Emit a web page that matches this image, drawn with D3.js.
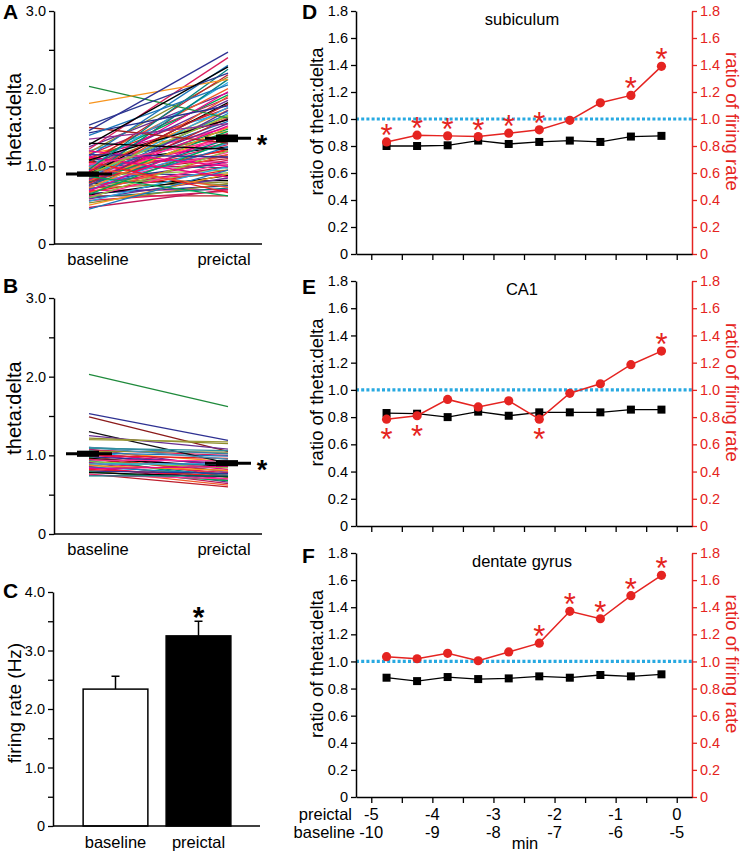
<!DOCTYPE html>
<html><head><meta charset="utf-8">
<script src="https://cdn.jsdelivr.net/npm/d3@7"></script>
<style>
body{margin:0;background:#fff}
text{font-family:"Liberation Sans",Arial,Helvetica,sans-serif}
</style>
</head><body>
<svg id="chart" width="746" height="853"></svg>
<script>
// ---------------- DATA ----------------
const groups = ["baseline", "preictal"];

// Panel A: theta:delta per unit, baseline -> preictal
const aBase = [2.03,1.81,1.53,1.50,1.46,1.43,1.40,1.35,1.30,1.28,1.25,1.22,1.20,1.18,1.17,1.15,1.13,1.12,1.10,1.10,
  1.08,1.07,1.05,1.05,1.04,1.03,1.02,1.01,1.00,1.00,0.99,0.98,0.97,0.96,0.95,0.95,0.94,0.93,0.92,0.92,
  0.91,0.90,0.90,0.89,0.88,0.88,0.87,0.86,0.86,0.85,0.84,0.84,0.83,0.82,0.82,0.81,0.80,0.80,0.79,0.78,
  0.78,0.77,0.76,0.75,0.75,0.74,0.73,0.72,0.72,0.71,0.70,0.69,0.68,0.67,0.66,0.65,0.64,0.63,0.62,0.61,
  0.60,0.59,0.58,0.56,0.55,0.53,0.50,0.47,0.45,1.12,1.20,1.06,0.98,1.15,0.87,1.08,0.93,1.02,0.96,0.90];
const aPre = [1.62,2.12,2.20,1.30,2.47,1.78,2.05,1.55,1.22,2.28,1.95,2.40,1.70,2.15,1.45,1.88,2.30,1.60,1.05,1.75,
  2.00,1.38,1.92,1.25,2.18,1.50,0.98,1.66,1.85,1.12,2.08,1.42,1.72,1.02,1.58,1.30,1.96,1.20,1.64,0.88,
  1.48,1.82,1.10,1.35,2.12,0.95,1.55,1.28,1.76,0.76,1.40,1.15,1.68,0.90,1.52,1.22,1.90,1.05,1.45,0.82,
  1.62,1.18,1.35,0.92,1.72,1.08,1.30,0.80,1.50,1.00,1.25,0.70,1.42,0.95,1.15,0.75,1.32,0.88,0.62,1.05,
  0.72,1.20,0.85,0.68,1.00,0.78,0.90,0.70,0.95,0.86,1.00,0.66,0.73,1.12,0.62,1.60,1.80,1.35,2.25,1.65];
const aMeans = [0.90, 1.36];
const aSem = [0.015, 0.03];

// Panel B
const bBase = [2.03,1.53,1.49,1.30,1.25,1.22,1.20,1.10,1.10,1.09,1.08,1.07,1.06,1.05,1.05,1.04,1.03,1.02,1.01,1.00,
  0.99,0.98,0.97,0.96,0.95,0.94,0.93,0.92,0.91,0.90,0.89,0.88,0.87,0.86,0.85,0.84,0.83,0.82,0.81,0.80,
  0.79,0.78,0.76,0.75,0.74];
const bPre = [1.62,1.19,1.05,0.90,1.08,1.15,1.17,1.02,0.95,1.06,0.85,1.00,0.78,1.04,0.92,0.72,0.99,0.88,0.82,0.96,
  0.75,0.90,0.68,0.86,0.80,0.93,0.74,0.84,0.66,0.78,0.89,0.72,0.81,0.64,0.76,0.70,0.86,0.74,0.62,0.77,
  0.68,0.73,0.60,0.70,0.74];
const bMeans = [1.02, 0.90];
const bSem = [0.02, 0.02];

// colours of individual unit lines
const aFirstColors = ["#1f8a3c","#f7941d","#2b3990","#a3201f","#2e3192","#262f8f","#1b75bb","#92278f","#000000","#000000"];
const bFirstColors = ["#1f8a3c","#2e3192","#8b1a1a","#111111","#662d91","#8c8c2c","#9c9a3a","#3b7ea1","#4a8fb3","#2f8f9d"];
const linePalette = ["#ec008c","#ed1c24","#f15a29","#2e3192","#00a651","#000000","#be1e2d","#ff3399","#00827f",
  "#8dc63f","#662d91","#d91c5c","#27aae1","#8b8b2c","#f7941d","#c2185b","#1b75bb","#e6007e"];

// Panel C: firing rate (Hz)
const firingRate = [2.34, 3.25];
const firingErr = [0.22, 0.25];

// Panels D-F
const minutes = [-4.75,-4.25,-3.75,-3.25,-2.75,-2.25,-1.75,-1.25,-0.75,-0.25];
const subTheta = [0.80,0.80,0.805,0.84,0.815,0.83,0.84,0.83,0.87,0.875];
const subRate  = [0.83,0.88,0.875,0.87,0.895,0.92,0.99,1.12,1.175,1.39];
const subStars = [1,1,1,1,1,1,0,0,1,1];
const ca1Theta = [0.83,0.825,0.80,0.84,0.81,0.835,0.835,0.835,0.855,0.855];
const ca1Rate  = [0.785,0.81,0.93,0.875,0.92,0.785,0.975,1.045,1.185,1.285];
const ca1Stars = [-1,-1,0,0,0,-1,0,0,0,1];
const dgTheta = [0.88,0.855,0.885,0.87,0.875,0.89,0.88,0.90,0.89,0.905];
const dgRate  = [1.035,1.02,1.06,1.005,1.07,1.135,1.37,1.315,1.485,1.635];
const dgStars = [0,0,0,0,0,1,1,1,1,1];
const ratioTicks = [0,0.2,0.4,0.6,0.8,1.0,1.2,1.4,1.6,1.8];
const preictalTicks = [-5,-4,-3,-2,-1,0];
const baselineTickLabels = ["-10","-9","-8","-7","-6","-5"];

// ---------------- DRAW ----------------
const svg = d3.select("#chart");
const RED = "#e52421", BLUE = "#27a9e1";
const fmt = d => d === 0 ? "0" : d3.format(".1f")(d);

function styleAxis(g, color) {
  g.select(".domain").attr("stroke", color).attr("stroke-width", 1.5);
  g.selectAll(".tick line").attr("stroke", color).attr("stroke-width", 1.3);
  g.selectAll(".tick text").attr("fill", color).attr("font-size", 14.5)
   .attr("font-family", '"Liberation Sans",Arial,sans-serif');
}
function letter(txt, x, y) {
  svg.append("text").attr("x", x).attr("y", y).attr("font-size", 21).attr("font-weight", "bold").text(txt);
}
function vLabel(txt, x, y, rot, color, size) {
  svg.append("text").attr("transform", `translate(${x},${y}) rotate(${rot})`)
    .attr("text-anchor", "middle").attr("font-size", size || 18).attr("fill", color || "#000").text(txt);
}
function star(x, cy, size, color, bold) {
  svg.append("text").attr("x", x).attr("y", cy + size * 0.58).attr("text-anchor", "middle")
    .attr("font-size", size).attr("font-weight", bold ? "bold" : "normal").attr("fill", color).text("*");
}

// Panels A & B
function drawPairs(base, pre, firstColors, means, sem, top, bottom, L, letterY) {
  const y = d3.scaleLinear().domain([0, 3]).range([bottom, top]);
  const x = d3.scalePoint().domain(groups).range([89, 228]);
  const xl = d3.scalePoint().domain(groups).range([98, 224]);
  const g = svg.append("g");
  const pairs = base.map((b, i) => ({ b, p: pre[i], c: firstColors[i] || linePalette[i % linePalette.length] }));
  const order = pairs.slice(firstColors.length).concat(pairs.slice(0, firstColors.length));
  g.selectAll("line.u").data(order).join("line")
    .attr("x1", x("baseline")).attr("x2", x("preictal"))
    .attr("y1", d => y(d.b)).attr("y2", d => y(d.p))
    .attr("stroke", d => d.c).attr("stroke-width", 1.3);
  // means
  groups.forEach((k, i) => {
    const cx = x(k);
    g.append("line").attr("x1", cx - 23).attr("x2", cx + 23).attr("y1", y(means[i])).attr("y2", y(means[i]))
      .attr("stroke", "#000").attr("stroke-width", 3);
    g.append("rect").attr("x", cx - 12).attr("width", 22)
      .attr("y", y(means[i] + sem[i]) - 1.5).attr("height", y(means[i] - sem[i]) - y(means[i] + sem[i]) + 3)
      .attr("fill", "#000");
  });
  star(262, y(means[1]), 27, "#000", true);
  const ax = svg.append("g").attr("transform", "translate(54,0)")
    .call(d3.axisLeft(y).tickValues([0, 0.5, 1, 1.5, 2, 2.5, 3])
      .tickFormat(d => d % 1 === 0 ? fmt(d) : "").tickSize(5).tickSizeOuter(0).tickPadding(3));
  styleAxis(ax, "#000");
  svg.append("line").attr("x1", 54).attr("x2", 262).attr("y1", bottom).attr("y2", bottom)
    .attr("stroke", "#000").attr("stroke-width", 1.5);
  groups.forEach(k => svg.append("text").attr("x", xl(k)).attr("y", bottom + 21)
    .attr("text-anchor", "middle").attr("font-size", 16.5).text(k));
  vLabel("theta:delta", 21, (top + bottom) / 2 - 8, -90, "#000", 20);
  letter(L, 3, letterY);
}
drawPairs(aBase, aPre, aFirstColors, aMeans, aSem, 11, 244, "A", 19);
drawPairs(bBase, bPre, bFirstColors, bMeans, bSem, 298, 534, "B", 293);

// Panel C
(function () {
  const y = d3.scaleLinear().domain([0, 4]).range([826, 592]);
  const x = d3.scaleBand().domain(groups).range([74, 240]).paddingInner(0.22).paddingOuter(0.11);
  groups.forEach((k, i) => {
    const cx = x(k) + x.bandwidth() / 2;
    svg.append("line").attr("x1", cx).attr("x2", cx).attr("y1", y(firingRate[i])).attr("y2", y(firingRate[i] + firingErr[i]))
      .attr("stroke", "#000").attr("stroke-width", 1.5);
    svg.append("line").attr("x1", cx - 4).attr("x2", cx + 4)
      .attr("y1", y(firingRate[i] + firingErr[i])).attr("y2", y(firingRate[i] + firingErr[i]))
      .attr("stroke", "#000").attr("stroke-width", 1.5);
    svg.append("rect").attr("x", x(k)).attr("width", x.bandwidth())
      .attr("y", y(firingRate[i])).attr("height", y(0) - y(firingRate[i]))
      .attr("fill", i === 0 ? "#fff" : "#000").attr("stroke", "#000").attr("stroke-width", 1.5);
    svg.append("text").attr("x", cx).attr("y", 848).attr("text-anchor", "middle").attr("font-size", 16.5).text(k);
  });
  star(x("preictal") + x.bandwidth() / 2, 610, 30, "#000", true);
  const ax = svg.append("g").attr("transform", "translate(53,0)")
    .call(d3.axisLeft(y).tickValues([0, 0.5, 1, 1.5, 2, 2.5, 3, 3.5, 4])
      .tickFormat(d => d % 1 === 0 ? fmt(d) : "").tickSize(5).tickSizeOuter(0).tickPadding(3));
  styleAxis(ax, "#000");
  svg.append("line").attr("x1", 53).attr("x2", 260).attr("y1", 826).attr("y2", 826)
    .attr("stroke", "#000").attr("stroke-width", 1.5);
  vLabel("firing rate (Hz)", 21, 703, -90, "#000", 19);
  letter("C", 3, 598);
})();

// Panels D-F
function drawRatio(theta, rate, stars, top, bottom, title, titleY, L, letterY, showLabels) {
  const x = d3.scaleLinear().domain([-5.25, 0.25]).range([356, 692]);
  const yL = d3.scaleLinear().domain([0, 1.8]).range([bottom, top]);
  const yR = d3.scaleLinear().domain([0, 1.8]).range([bottom, top]);
  // reference line at 1.0
  svg.append("line").attr("x1", 356).attr("x2", 692).attr("y1", yL(1)).attr("y2", yL(1))
    .attr("stroke", BLUE).attr("stroke-width", 3.2).attr("stroke-dasharray", "3 2.2");
  const axL = svg.append("g").attr("transform", "translate(356,0)")
    .call(d3.axisLeft(yL).tickValues(ratioTicks).tickFormat(fmt).tickSize(5).tickSizeOuter(0).tickPadding(3));
  styleAxis(axL, "#000");
  const axR = svg.append("g").attr("transform", "translate(692,0)")
    .call(d3.axisRight(yR).tickValues(ratioTicks).tickFormat(fmt).tickSize(5).tickSizeOuter(0).tickPadding(3));
  styleAxis(axR, RED);
  const allTicks = d3.range(-5, 0.01, 0.5);
  const axB = svg.append("g").attr("transform", `translate(0,${bottom})`)
    .call(d3.axisBottom(x).tickValues(allTicks).tickFormat("").tickSize(6).tickSizeOuter(0));
  styleAxis(axB, "#000");
  // theta:delta line (black squares)
  const line = d3.line().x((d, i) => x(minutes[i]));
  svg.append("path").attr("d", line.y(d => yL(d))(theta)).attr("fill", "none")
    .attr("stroke", "#000").attr("stroke-width", 1.3);
  svg.selectAll(null).data(theta).join("rect")
    .attr("x", (d, i) => x(minutes[i]) - 4).attr("y", d => yL(d) - 4)
    .attr("width", 8).attr("height", 8).attr("fill", "#000");
  // firing-rate line (red circles)
  svg.append("path").attr("d", d3.line().x((d, i) => x(minutes[i])).y(d => yR(d))(rate))
    .attr("fill", "none").attr("stroke", RED).attr("stroke-width", 1.5);
  svg.selectAll(null).data(rate).join("circle")
    .attr("cx", (d, i) => x(minutes[i])).attr("cy", d => yR(d)).attr("r", 4.6).attr("fill", RED);
  stars.forEach((s, i) => {
    if (s === 0) return;
    const cy = yR(rate[i]) + (s > 0 ? -14 : 13);
    star(x(minutes[i]), cy, 31, RED, false);
  });
  svg.append("text").attr("x", 522).attr("y", titleY).attr("text-anchor", "middle")
    .attr("font-size", 16.5).text(title);
  const mid = (top + bottom) / 2 - 11;
  vLabel("ratio of theta:delta", 323, mid, -90, "#000", 18.5);
  vLabel("ratio of firing rate", 726, mid, 90, RED, 18.5);
  letter(L, 302, letterY);
  if (showLabels) {
    preictalTicks.forEach((t, i) => {
      svg.append("text").attr("x", x(t)).attr("y", bottom + 23).attr("text-anchor", "middle")
        .attr("font-size", 16.5).text(t);
      svg.append("text").attr("x", x(t)).attr("y", bottom + 41).attr("text-anchor", "middle")
        .attr("font-size", 16.5).text(baselineTickLabels[i]);
    });
    svg.append("text").attr("x", 352).attr("y", bottom + 23).attr("text-anchor", "end").attr("font-size", 16.5).text("preictal");
    svg.append("text").attr("x", 355).attr("y", bottom + 41).attr("text-anchor", "end").attr("font-size", 16.5).text("baseline");
    svg.append("text").attr("x", 525).attr("y", bottom + 52).attr("text-anchor", "middle").attr("font-size", 16.5).text("min");
  }
}
drawRatio(subTheta, subRate, subStars, 11, 254, "subiculum", 25, "D", 19, false);
drawRatio(ca1Theta, ca1Rate, ca1Stars, 281, 526, "CA1", 295, "E", 294, false);
drawRatio(dgTheta, dgRate, dgStars, 553, 797, "dentate gyrus", 567, "F", 563, true);
</script>
</body></html>
